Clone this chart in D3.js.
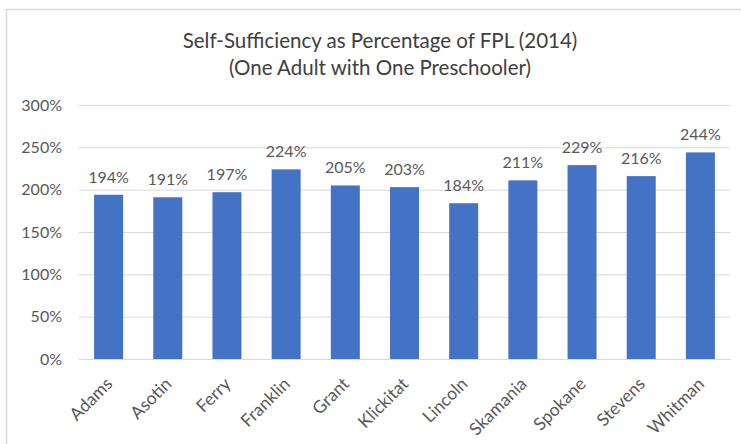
<!DOCTYPE html>
<html><head><meta charset="utf-8">
<script src="https://cdn.jsdelivr.net/npm/d3@7"></script>
<style>body{margin:0;background:#fff}svg{display:block}</style>
</head><body>
<svg id="c" width="741" height="444"></svg>
<script>
const categories = ["Adams","Asotin","Ferry","Franklin","Grant","Klickitat","Lincoln","Skamania","Spokane","Stevens","Whitman"];
const values = [194,191,197,224,205,203,184,211,229,216,244];
const yTicks = [0,50,100,150,200,250,300];
const titleLines = ["Self-Sufficiency as Percentage of FPL (2014)","(One Adult with One Preschooler)"];

const svg = d3.select("#c");
const font = "Lato, 'Open Sans', sans-serif";
const txt = "#595959";

svg.append("rect").attr("x",6.5).attr("y",9.5).attr("width",800).attr("height",500)
  .attr("fill","#fff").attr("stroke","#d9d9d9").attr("stroke-width",1.5);

const x = d3.scaleBand().domain(categories).range([79,730]).paddingInner(0.51).paddingOuter(0.255);
const y = d3.scaleLinear().domain([0,300]).range([359,105]);

// gridlines
svg.append("g").selectAll("line").data(yTicks).join("line")
  .attr("x1",79).attr("x2",730).attr("y1",d=>y(d)+0.5).attr("y2",d=>y(d)+0.5)
  .attr("stroke","#d9d9d9").attr("stroke-width",1);

// y axis labels
const yAxis = d3.axisLeft(y).tickValues(yTicks).tickFormat(d=>d+"%").tickSize(0).tickPadding(17);
const gy = svg.append("g").attr("transform","translate(79,0)").call(yAxis);
gy.select(".domain").remove();
gy.selectAll("text").attr("fill",txt).style("font-family",font).style("font-size","16px");

// bars
svg.append("g").selectAll("rect").data(values).join("rect")
  .attr("x",(d,i)=>x(categories[i])).attr("width",x.bandwidth())
  .attr("y",d=>y(d)).attr("height",d=>y(0)-y(d)).attr("fill","#4472C4");

// value labels
svg.append("g").selectAll("text").data(values).join("text")
  .attr("x",(d,i)=>x(categories[i])+x.bandwidth()/2).attr("y",d=>y(d)-12)
  .attr("text-anchor","middle").attr("fill",txt)
  .style("font-family",font).style("font-size","16px").text(d=>d+"%");

// x labels
const xAxis = d3.axisBottom(x).tickSize(0).tickPadding(0);
const gx = svg.append("g").attr("transform","translate(0,359)").call(xAxis);
gx.select(".domain").attr("stroke","#d9d9d9");
gx.selectAll("text").attr("fill",txt).style("font-family",font).style("font-size","17.5px")
  .attr("text-anchor","end").attr("dy",null).attr("y",0)
  .attr("transform","translate(5,26) rotate(-45)");

// title
svg.append("g").selectAll("text").data(titleLines).join("text")
  .attr("x",380).attr("y",(d,i)=>48+i*27).attr("text-anchor","middle").attr("fill","#404040")
  .style("font-family",font).style("font-size","20.5px").text(d=>d);
</script>
</body></html>
